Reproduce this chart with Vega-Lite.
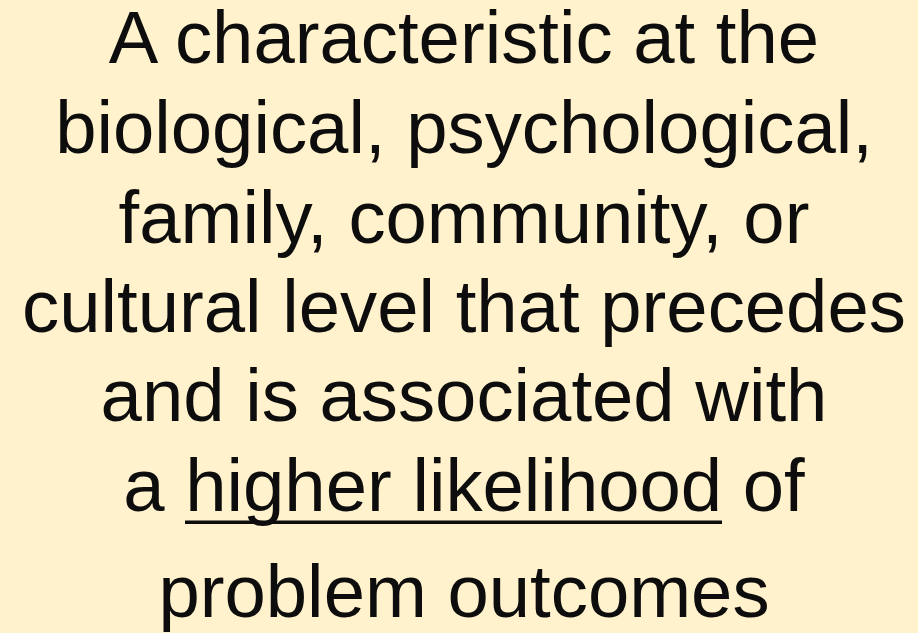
{
  "$schema": "https://vega.github.io/schema/vega-lite/v6.json",
  "width": 918,
  "height": 633,
  "autosize": {"type": "fit", "contains": "padding"},
  "padding": 0,
  "background": "#FFF2CC",
  "config": {"view": {"stroke": null}},
  "layer": [
    {
      "data": {
        "values": [
          {"line": 1, "text": "A characteristic at the", "x": 464, "y": 63},
          {"line": 2, "text": "biological, psychological,", "x": 464, "y": 153},
          {"line": 3, "text": "family, community, or", "x": 464, "y": 243},
          {"line": 4, "text": "cultural level that precedes", "x": 464, "y": 333},
          {"line": 5, "text": "and is associated with", "x": 464, "y": 422},
          {"line": 6, "text": "a higher likelihood of", "x": 464, "y": 512},
          {"line": 7, "text": "problem outcomes", "x": 464, "y": 618}
        ]
      },
      "mark": {"type": "text", "font": "Liberation Sans", "fontSize": 74.3, "align": "center", "baseline": "alphabetic", "color": "#0D0D0D"},
      "encoding": {
        "x": {"field": "x", "type": "quantitative", "scale": {"domain": [0, 918], "nice": false, "zero": false}, "axis": null},
        "y": {"field": "y", "type": "quantitative", "scale": {"domain": [633, 0], "nice": false, "zero": false}, "axis": null},
        "text": {"field": "text"}
      }
    },
    {
      "data": {"values": [{"x": 185, "x2": 722, "y": 523}]},
      "mark": {"type": "rule", "color": "#0D0D0D", "strokeWidth": 3.5},
      "encoding": {
        "x": {"field": "x", "type": "quantitative"},
        "x2": {"field": "x2"},
        "y": {"field": "y", "type": "quantitative"}
      }
    }
  ]
}
